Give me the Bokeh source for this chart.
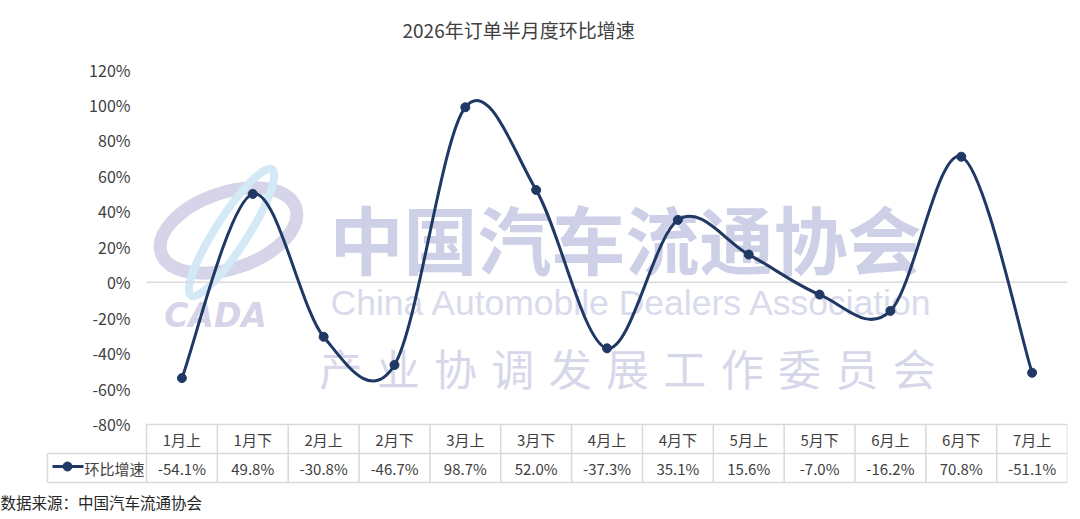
from bokeh.plotting import figure
from bokeh.models import Range1d
from bokeh.core.properties import value
from bokeh.embed import file_html
from bokeh.resources import INLINE

# ---------------- data ----------------
title_text = "2026年订单半月度环比增速"
categories = ["1月上", "1月下", "2月上", "2月下", "3月上", "3月下", "4月上",
              "4月下", "5月上", "5月下", "6月上", "6月下", "7月上"]
growth = [-54.1, 49.8, -30.8, -46.7, 98.7, 52.0, -37.3, 35.1, 15.6, -7.0, -16.2, 70.8, -51.1]
series_name = "环比增速"
y_ticks = [-80, -60, -40, -20, 0, 20, 40, 60, 80, 100, 120]
y_tick_labels = ["-80%", "-60%", "-40%", "-20%", "0%", "20%", "40%", "60%", "80%", "100%", "120%"]
source_note = "数据来源：中国汽车流通协会"
wm_cn = "中国汽车流通协会"
wm_en = "China Automobile Dealers Association"
wm_sub = "\u2004".join("产业协调发展工作委员会")
wm_logo = "CADA"

# ---------------- layout constants (px, figure coordinates) ----------------
FONT = "Noto Sans CJK SC"
W, H = 1072, 511
MB_TOP = 55
MB_RIGHT = 5
COL0 = 146            # x of first category column
COLW = 70.85          # px per category column
NCOL = len(categories)
Y120_PX, YM80_PX = 69.0, 423.5
PPU_Y = (YM80_PX - Y120_PX) / 200.0
YTOP = 120 + (Y120_PX - MB_TOP) / PPU_Y
LINE_C = "#203864"
TXT_C = "#404040"
GRID_C = "#d9d9d9"


def sx2x(sx):
    return (sx - COL0) / COLW


def sy2y(sy):
    return YTOP - (sy - MB_TOP) / PPU_Y


x_lo = sx2x(0)
x_hi = sx2x(W - MB_RIGHT)
y_lo = sy2y(H)

p = figure(width=W, height=H, output_backend="svg", toolbar_location=None,
           x_range=Range1d(x_lo, x_hi), y_range=Range1d(y_lo, YTOP),
           min_border_left=0, min_border_right=MB_RIGHT,
           min_border_top=MB_TOP, min_border_bottom=0,
           title=title_text)
p.axis.visible = False
p.grid.visible = False
p.outline_line_color = None
p.background_fill_color = "white"
p.border_fill_color = "white"

p.title.text_font = FONT
p.title.text_font_size = "19px"
p.title.text_font_style = "normal"
p.title.text_color = TXT_C
p.title.align = "left"
p.title.offset = 402
p.title.standoff = 26

# ---------- watermark (decorative background) ----------
WM_C = "#cdd0e6"
p.ellipse(x=[sx2x(228)], y=[sy2y(230)], width=[142], height=[76], angle=[0.33],
          width_units="screen", height_units="screen",
          fill_color=None, line_color="#d6d4e8", line_width=13)
p.ellipse(x=[sx2x(231)], y=[sy2y(232)], width=[150], height=[32], angle=[1.0],
          width_units="screen", height_units="screen",
          fill_color=None, line_color="#d3eaf6", line_width=8)
p.text(x=[sx2x(215)], y=[sy2y(315)], text=[wm_logo], text_font=value("DejaVu Sans"),
       text_font_size="33px", text_font_style="bold italic", text_color="#d6d4e8",
       text_align="center", text_baseline="middle")
p.text(x=[sx2x(625)], y=[sy2y(236)], text=[wm_cn], text_font=value(FONT),
       text_font_size="74px", text_font_style="bold", text_color=WM_C,
       text_align="center", text_baseline="middle")
p.text(x=[sx2x(632)], y=[sy2y(302)], text=[wm_en], text_font=value("Liberation Sans"),
       text_font_size="35.5px", text_color="#d9dbec",
       text_align="center", text_baseline="middle")
p.text(x=[sx2x(627)], y=[sy2y(366)], text=[wm_sub], text_font=value(FONT),
       text_font_size="43px", text_color="#d6d8ea",
       text_align="center", text_baseline="middle")

# ---------- value axis labels + zero line ----------
p.text(x=[sx2x(130)] * len(y_ticks), y=y_ticks, text=y_tick_labels,
       text_font=value(FONT), text_font_size="16px", text_color=TXT_C,
       text_align="right", text_baseline="middle")
p.segment(x0=[0], y0=[0], x1=[NCOL], y1=[0], line_color=GRID_C, line_width=1.5)

# ---------- smoothed line (Catmull-Rom style Bezier through the points) ----------
xs = [i + 0.5 for i in range(NCOL)]
n = NCOL
bx0, by0, bx1, by1, cx0, cy0, cx1, cy1 = [], [], [], [], [], [], [], []
for i in range(n - 1):
    a = i - 1 if i > 0 else i
    d = i + 2 if i + 2 < n else i + 1
    bx0.append(xs[i]); by0.append(growth[i])
    bx1.append(xs[i + 1]); by1.append(growth[i + 1])
    cx0.append(xs[i] + (xs[i + 1] - xs[a]) / 6)
    cy0.append(growth[i] + (growth[i + 1] - growth[a]) / 6)
    cx1.append(xs[i + 1] - (xs[d] - xs[i]) / 6)
    cy1.append(growth[i + 1] - (growth[d] - growth[i]) / 6)
p.bezier(x0=bx0, y0=by0, x1=bx1, y1=by1, cx0=cx0, cy0=cy0, cx1=cx1, cy1=cy1,
         line_color=LINE_C, line_width=3)
p.scatter(x=xs, y=growth, size=9, marker="circle", fill_color=LINE_C, line_color=LINE_C)

# ---------- data table ----------
xl = sx2x(47)
r0, r1, r2 = sy2y(424), sy2y(453), sy2y(482)
p.segment(x0=[0, xl, xl], y0=[r0, r1, r2], x1=[NCOL, NCOL, NCOL], y1=[r0, r1, r2],
          line_color=GRID_C, line_width=1.5)
vx = list(range(NCOL + 1))
p.segment(x0=vx, y0=[r0] * len(vx), x1=vx, y1=[r2] * len(vx),
          line_color=GRID_C, line_width=1.5)
p.segment(x0=[xl], y0=[r1], x1=[xl], y1=[r2], line_color=GRID_C, line_width=1.5)

row1_y = sy2y(439)
row2_y = sy2y(468)
p.text(x=xs, y=[row1_y] * n, text=categories, text_font=value(FONT),
       text_font_size="15px", text_color=TXT_C, text_align="center", text_baseline="middle")
p.text(x=xs, y=[row2_y] * n, text=[f"{v:.1f}%" for v in growth],
       text_font=value(FONT), text_font_size="15px", text_color=TXT_C,
       text_align="center", text_baseline="middle")
# legend key
key_y = sy2y(466)
p.segment(x0=[sx2x(52)], y0=[key_y], x1=[sx2x(83)], y1=[key_y], line_color=LINE_C, line_width=3)
p.scatter(x=[sx2x(67)], y=[key_y], size=9, marker="circle", fill_color=LINE_C, line_color=LINE_C)
p.text(x=[sx2x(84)], y=[row2_y], text=[series_name], text_font=value(FONT),
       text_font_size="15px", text_color=TXT_C, text_align="left", text_baseline="middle")
# source note
p.text(x=[x_lo], y=[sy2y(501)], text=[source_note], text_font=value(FONT),
       text_font_size="15.5px", text_color="#262626", text_align="left", text_baseline="middle")

open("out.html", "w").write(file_html(p, INLINE))
